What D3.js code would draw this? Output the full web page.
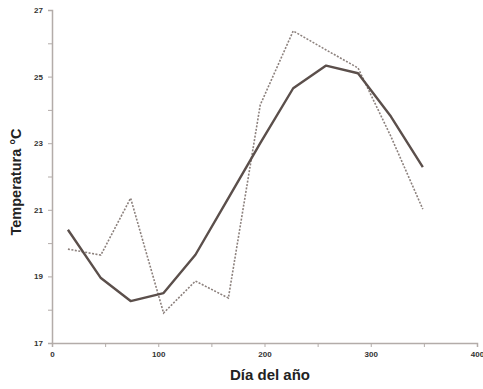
<!DOCTYPE html>
<html>
<head>
<meta charset="utf-8">
<script src="https://cdn.jsdelivr.net/npm/d3@7"></script>
<style>
  body { margin: 0; background: #fff; }
  text { font-family: "Liberation Sans", Arial, sans-serif; }
</style>
</head>
<body>
<div id="chart"></div>
<script>
// day of year (mid month) and two temperature series
const days = [15, 46, 74, 105, 135, 166, 196, 227, 258, 288, 319, 349]
const tempSolid = [20.4, 18.95, 18.26, 18.5, 19.65, 21.35, 23.0, 24.65, 25.33, 25.1, 23.8, 22.28]
const tempDashed = [19.82, 19.64, 21.35, 17.9, 18.86, 18.35, 24.15, 26.37, 25.8, 25.26, 23.2, 21.02]
const xLabels = [0, 100, 200, 300, 400]
const yLabels = [17, 19, 21, 23, 25, 27]

const width = 483, height = 389
const svg = d3.select("#chart").append("svg")
    .attr("width", width)
    .attr("height", height)

const x = d3.scaleLinear().domain([0, 400]).range([52, 477])
const y = d3.scaleLinear().domain([17, 27]).range([343, 10])

const axisColor = "#b3aca9"

// y axis
const gy = svg.append("g").attr("transform", "translate(" + x(0) + ",0)")
    .call(d3.axisLeft(y).tickValues(d3.range(17, 28, 1)).tickSize(4)
        .tickFormat(d => yLabels.includes(d) ? d : ""))
gy.select(".domain").attr("stroke", axisColor).attr("stroke-width", 1.5)
gy.selectAll(".tick line").attr("stroke", axisColor)
gy.selectAll(".tick text").attr("font-size", 8).attr("font-weight", "bold")
    .attr("fill", "#333").attr("x", -9)

// x axis
const gx = svg.append("g").attr("transform", "translate(0," + y(17) + ")")
    .call(d3.axisBottom(x).tickValues(d3.range(0, 401, 50)).tickSize(4)
        .tickFormat(d => xLabels.includes(d) ? d : ""))
gx.select(".domain").attr("stroke", axisColor).attr("stroke-width", 1.5)
gx.selectAll(".tick line").attr("stroke", axisColor)
gx.selectAll(".tick text").attr("font-size", 8).attr("font-weight", "bold")
    .attr("fill", "#333").attr("y", 8)

// axis titles
svg.append("text")
    .attr("x", 270).attr("y", 380)
    .attr("text-anchor", "middle")
    .attr("font-size", 15).attr("font-weight", "bold").attr("fill", "#222")
    .text("Día del año")
svg.append("text")
    .attr("transform", "translate(21,182) rotate(-90)")
    .attr("text-anchor", "middle")
    .attr("font-size", 14.5).attr("font-weight", "bold").attr("fill", "#222")
    .text("Temperatura °C")

const line = d3.line().x(d => x(d[0])).y(d => y(d[1]))

svg.append("path")
    .datum(d3.zip(days, tempDashed))
    .attr("d", line)
    .attr("fill", "none")
    .attr("stroke", "#8c817d")
    .attr("stroke-width", 1.6)
    .attr("stroke-dasharray", "2,1.5")

svg.append("path")
    .datum(d3.zip(days, tempSolid))
    .attr("d", line)
    .attr("fill", "none")
    .attr("stroke", "#5b4f4b")
    .attr("stroke-width", 2.4)
    .attr("stroke-linejoin", "round")
</script>
</body>
</html>
